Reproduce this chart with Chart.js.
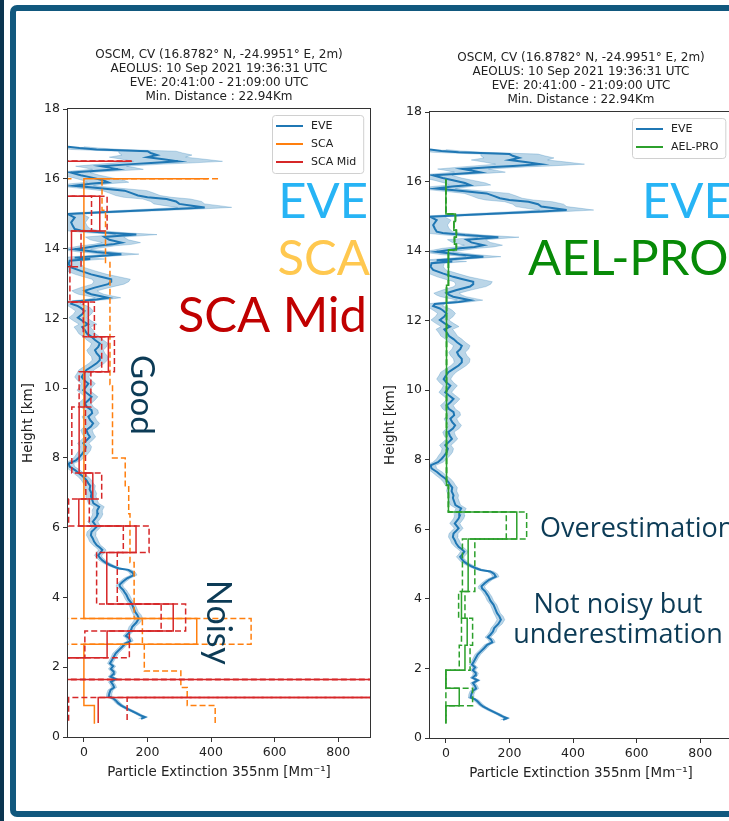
<!DOCTYPE html>
<html>
<head>
<meta charset="utf-8">
<script src="https://cdn.jsdelivr.net/npm/chart.js@4.4.0/dist/chart.umd.min.js"></script>
<style>
  html, body { margin: 0; padding: 0; background: #fff; overflow: hidden; width: 729px; height: 821px; }
  #strip { position: absolute; left: 0; top: 0; width: 4px; height: 821px; background: #0b3550; }
  #frame { position: absolute; left: 10px; top: 5px; width: 800px; height: 812px; border: 6px solid #11587e;
           border-radius: 7px; box-sizing: border-box; }
  canvas { position: absolute; top: 0; }
  #left { left: 0; }
  #right { left: 362px; }
</style>
</head>
<body>
<div id="strip"></div>
<div id="frame"></div>
<canvas id="left" width="438" height="821"></canvas>
<canvas id="right" width="438" height="821"></canvas>
<script>
// EVE lidar profile (height km, extinction Mm-1, half width of the shaded band)
const eveH = [
  0.52, 0.57, 0.62, 0.68, 0.75, 0.82, 0.90, 0.97, 1.05, 1.11,
  1.16, 1.25, 1.35, 1.42, 1.49, 1.58, 1.66, 1.73, 1.80, 1.87,
  1.95, 2.03, 2.11, 2.20, 2.30, 2.40, 2.49, 2.58, 2.68, 2.75,
  2.83, 2.90, 2.97, 3.06, 3.16, 3.28, 3.40, 3.50, 3.59, 3.70,
  3.83, 3.95, 4.07, 4.15, 4.21, 4.30, 4.36, 4.45, 4.55, 4.64,
  4.72, 4.79, 4.83, 4.88, 4.93, 5.00, 5.07, 5.14, 5.21, 5.28,
  5.36, 5.43, 5.50, 5.60, 5.69, 5.78, 5.88, 5.95, 6.03, 6.10,
  6.17, 6.25, 6.31, 6.40, 6.50, 6.60, 6.70, 6.80, 6.90, 6.98,
  7.10, 7.20, 7.27, 7.36, 7.46, 7.55, 7.65, 7.75, 7.84, 7.93,
  8.03, 8.12, 8.22, 8.32, 8.42, 8.50, 8.60, 8.70, 8.80, 8.90,
  8.99, 9.08, 9.18, 9.28, 9.37, 9.46, 9.56, 9.66, 9.75, 9.85,
  9.94, 10.03, 10.13, 10.22, 10.32, 10.42, 10.52, 10.62, 10.71, 10.80,
  10.90, 11.00, 11.09, 11.18, 11.28, 11.38, 11.47, 11.56, 11.66, 11.75,
  11.83, 11.93, 12.02, 12.12, 12.21, 12.30, 12.35, 12.42, 12.48, 12.54,
  12.59, 12.64, 12.69, 12.74, 12.79, 12.88, 12.98, 13.05, 13.12, 13.20,
  13.26, 13.36, 13.46, 13.55, 13.65, 13.70, 13.74, 13.79, 13.84, 13.90,
  13.98, 14.03, 14.08, 14.12, 14.17, 14.25, 14.33, 14.40, 14.46, 14.52,
  14.56, 14.65, 14.75, 14.89, 14.99, 15.04, 15.09, 15.14, 15.18, 15.23,
  15.28, 15.35, 15.42, 15.47, 15.52, 15.59, 15.66, 15.72, 15.80, 15.86,
  15.90, 15.96, 16.04, 16.10, 16.18, 16.22, 16.27, 16.32, 16.36, 16.42,
  16.45, 16.50, 16.56, 16.62, 16.68, 16.74, 16.79, 16.84, 16.88, 16.92
];
const eveV = [
  180, 192, 178, 166, 150, 134, 118, 108, 100, 92,
  78, 80, 84, 95, 92, 85, 100, 84, 92, 94,
  85, 92, 82, 88, 94, 100, 110, 120, 130, 146,
  142, 132, 140, 148, 152, 165, 173, 168, 161, 156,
  150, 140, 134, 128, 124, 114, 112, 122, 136, 157,
  152, 140, 110, 95, 82, 68, 57, 50, 45, 52,
  58, 50, 40, 32, 28, 22, 24, 32, 40, 34,
  28, 35, 40, 44, 42, 48, 30, 26, 22, 24,
  18, 20, 14, 8, -2, -15, -28, -45, -48, -25,
  -13, -5, 3, 6, -2, 8, 19, 12, 8, 22,
  29, 20, 14, 26, 24, 10, 3, 15, 24, 10,
  -2, 6, 14, 2, -7, 0, 8, 25, 40, 50,
  50, 40, 35, 45, 50, 35, 24, 10, 3, -5,
  13, -5, -19, -5, 2, -10, -19, -40, -35, 40,
  76, 50, 23, 10, 2, 34, 76, 86, 86, 50,
  23, -10, -40, -48, -45, 20, -29, 50, 118, 40,
  -29, 10, 44, 90, 118, 80, 65, 165, 60, -10,
  -29, -35, -40, -29, -50, 60, 180, 300, 380, 340,
  300, 290, 260, 200, 170, 150, 128, 60, -30, 20,
  76, 60, 22, -10, -41, 30, 107, 80, 54, 150,
  211, 296, 250, 200, 230, 210, 200, 40, -14, -50
];
const eveErr = [
  8, 8, 8, 8, 8, 8, 8, 8, 8, 8,
  8, 8, 8, 8, 8, 8, 8, 8, 8, 8,
  8, 8, 8, 8, 8, 9, 9, 9, 9, 9,
  9, 9, 9, 10, 10, 12, 12, 12, 10, 10,
  10, 10, 10, 10, 10, 10, 10, 10, 10, 10,
  10, 10, 10, 10, 10, 10, 10, 10, 12, 12,
  12, 12, 12, 14, 14, 14, 14, 14, 14, 14,
  16, 16, 16, 16, 16, 16, 16, 16, 16, 16,
  16, 16, 16, 16, 16, 16, 16, 16, 16, 16,
  16, 18, 18, 18, 18, 18, 18, 18, 18, 20,
  20, 20, 20, 20, 20, 20, 20, 20, 20, 20,
  20, 20, 22, 22, 22, 22, 24, 24, 24, 24,
  26, 26, 26, 26, 26, 26, 26, 26, 26, 26,
  28, 28, 28, 28, 28, 30, 30, 30, 30, 35,
  40, 40, 40, 40, 40, 45, 50, 55, 60, 55,
  50, 45, 40, 40, 40, 45, 45, 50, 55, 55,
  50, 50, 55, 60, 60, 60, 60, 65, 60, 55,
  50, 45, 45, 45, 45, 60, 70, 80, 85, 85,
  80, 80, 75, 75, 70, 70, 70, 65, 60, 60,
  65, 65, 60, 60, 60, 70, 80, 80, 80, 100,
  120, 140, 130, 120, 110, 100, 90, 80, 60, 50
];

// SCA (bin edges from the top, one value per bin)
const scaEdges = [16.0, 16.0, 15.1, 13.6, 10.1, 8.0, 7.2, 6.4, 5.0, 3.4, 2.66, 1.89, 1.42, 0.9, 0.38];
const scaVal = [390, 0, 0, 0, 0, 0, 0, 0, 0, 355, 0, 0, 0, 33];
const scaLo = [-39, -70, -70, -70, -70, -70, -70, -70, -70, 184, -70, -70, -70, -350];
const scaHi = [422, 57, 68, 82, 90, 130, 141, 145, 158, 526, 190, 305, 325, 413];

// SCA Mid
const midEdges = [16.5, 16.5, 15.5, 14.5, 13.48, 12.47, 11.47, 10.47, 9.46, 7.57, 6.82, 6.05, 5.29, 3.81, 3.04, 2.27, 1.65, 1.13, 0.40];
const midVal = [150, -500, 50, -39, -100, 14, 77, 3, -15, 28, -16, 164, 72, 281, 73, -3000, 5000, 45];
const midLo = [150, -700, 24, -80, -160, -2, 56, -15, -38, 6, -48, 124, 40, 243, 3, -4000, 3000, -48];
const midHi = [150, -300, 73, -9, -44, 33, 96, 22, 5, 56, 17, 205, 105, 320, 143, -2000, 7000, 136];

// AEL-PRO
const aelEdges = [16.06, 15.07, 14.85, 14.6, 14.4, 14.2, 14.03, 13.02, 7.27, 6.50, 5.72, 4.21, 3.44, 2.67, 1.95, 1.43, 0.93, 0.42];
const aelVal = [0, 30, 25, 33, 27, 33, 8, 2, 8, 223, 70, 49, 67, 60, 0, 42, 0];
const aelLo = [0, 30, 25, 33, 27, 33, 8, 2, 8, 190, 52, 40, 49, 42, 0, 0, 0];
const aelHi = [0, 30, 25, 33, 27, 33, 8, 2, 8, 254, 91, 60, 84, 76, 0, 84, 0];

const xTicks = [0, 200, 400, 600, 800];
const titleLines = [
  'OSCM, CV (16.8782° N, -24.9951° E, 2m)',
  'AEOLUS: 10 Sep 2021 19:36:31 UTC',
  'EVE: 20:41:00 - 21:09:00 UTC',
  'Min. Distance : 22.94Km'
];

Chart.defaults.font.family = '"DejaVu Sans", sans-serif';

function profile(h, v) {
  return h.map((y, i) => ({ x: v[i], y: y }));
}

function steps(edges, vals) {
  const pts = [];
  vals.forEach((v, i) => {
    pts.push({ x: v, y: edges[i] });
    pts.push({ x: v, y: edges[i + 1] });
  });
  return pts;
}

function stepSet(label, edges, vals, color, dashed) {
  return {
    label: label, data: steps(edges, vals), borderColor: color, borderWidth: 1.5,
    borderDash: dashed ? [6, 3] : [], pointRadius: 0, fill: false, tension: 0
  };
}

function eveSets() {
  return [
    { label: 'EVE', data: profile(eveH, eveV), borderColor: '#1f77b4', borderWidth: 2,
      pointRadius: 0, fill: false, tension: 0 },
    { label: 'eve-lo', data: profile(eveH, eveV.map((v, i) => v - eveErr[i])),
      borderColor: 'rgba(31,119,180,0.25)', borderWidth: 1, pointRadius: 0, fill: false, tension: 0 },
    { label: 'eve-hi', data: profile(eveH, eveV.map((v, i) => v + eveErr[i])),
      borderColor: 'rgba(31,119,180,0.25)', borderWidth: 1, pointRadius: 0, tension: 0,
      fill: '-1', backgroundColor: 'rgba(31,119,180,0.3)' }
  ];
}

// box around the axes, like matplotlib spines
const spines = {
  id: 'spines',
  afterDatasetsDraw(chart) {
    const { ctx, chartArea: a } = chart;
    ctx.save();
    ctx.strokeStyle = '#333';
    ctx.lineWidth = 1;
    ctx.strokeRect(Math.round(a.left) - 0.5, Math.round(a.top) - 0.5,
                   Math.round(a.right - a.left) + 1, Math.round(a.bottom - a.top) + 1);
    ctx.restore();
  }
};

// legend box in the upper right corner of the axes
const boxLegend = {
  id: 'boxLegend',
  afterDatasetsDraw(chart, args, opts) {
    const items = opts.labels.map(l => chart.data.datasets.find(d => d.label === l));
    const ctx = chart.ctx;
    const a = chart.chartArea;
    ctx.save();
    ctx.font = '11px "DejaVu Sans"';
    const tw = Math.max(...items.map(d => ctx.measureText(d.label).width));
    const w = 39 + tw + 7, h = items.length * 18 + 4;
    const x = Math.round(a.right - 7 - w), y = Math.round(a.top + 6);
    ctx.beginPath();
    ctx.roundRect(x + 0.5, y + 0.5, w, h, 3);
    ctx.fillStyle = 'rgba(255,255,255,0.8)';
    ctx.fill();
    ctx.strokeStyle = '#d0d0d0';
    ctx.lineWidth = 1;
    ctx.stroke();
    items.forEach((d, i) => {
      const cy = y + 11 + i * 18;
      ctx.beginPath();
      ctx.moveTo(x + 4, cy);
      ctx.lineTo(x + 31, cy);
      ctx.strokeStyle = d.borderColor;
      ctx.lineWidth = 2;
      ctx.stroke();
      ctx.fillStyle = '#222';
      ctx.textBaseline = 'middle';
      ctx.fillText(d.label, x + 39, cy);
    });
    ctx.restore();
  }
};

// big annotation words written over the figure
const notes = {
  id: 'notes',
  afterDraw(chart, args, opts) {
    const ctx = chart.ctx;
    opts.items.forEach(n => {
      ctx.save();
      ctx.font = n.size + 'px ' + (n.face || 'Lato');
      ctx.fillStyle = n.color;
      ctx.textAlign = n.align || 'left';
      ctx.textBaseline = 'alphabetic';
      ctx.translate(n.x, n.y);
      if (n.rotate) ctx.rotate(n.rotate * Math.PI / 180);
      ctx.fillText(n.text, 0, 0);
      ctx.restore();
    });
  }
};

function makeChart(id, datasets, legendLabels, noteItems, padTop, padBottom) {
  return new Chart(document.getElementById(id), {
    type: 'line',
    data: { datasets: datasets },
    options: {
      indexAxis: 'y',
      responsive: false,
      animation: false,
      events: [],
      layout: { padding: { top: padTop, bottom: padBottom, left: 20, right: 68 } },
      scales: {
        x: {
          type: 'linear', min: -50, max: 900,
          afterBuildTicks: s => { s.ticks = xTicks.map(v => ({ value: v })); },
          afterFit: s => { s.height = 50; },
          grid: { drawOnChartArea: false, drawTicks: true, tickLength: 5, color: '#333' },
          border: { display: false },
          ticks: { font: { size: 12.5 }, color: '#222', padding: 3 },
          title: { display: true, text: 'Particle Extinction 355nm [Mm⁻¹]', color: '#222',
                   font: { size: 13.4 }, padding: { top: 4, bottom: 6 } }
        },
        y: {
          type: 'linear', min: 0, max: 18,
          afterFit: s => { s.width = 48; },
          grid: { drawOnChartArea: false, drawTicks: true, tickLength: 5, color: '#333' },
          border: { display: false },
          ticks: { stepSize: 2, font: { size: 12.5 }, color: '#222', padding: 3 },
          title: { display: true, text: 'Height [km]', color: '#222',
                   font: { size: 13.4 }, padding: { top: 0, bottom: 4 } }
        }
      },
      plugins: {
        legend: { display: false },
        tooltip: { enabled: false },
        title: { display: true, text: titleLines, fullSize: false, color: '#222',
                 font: { size: 12, weight: 'normal', lineHeight: '14px' },
                 padding: { top: 0, bottom: 5 } },
        boxLegend: { labels: legendLabels },
        notes: { items: noteItems }
      }
    },
    plugins: [spines, boxLegend, notes]
  });
}

const navy = '#0c3b56';
const lightBlue = '#27b4f5';

makeChart('left', [
  stepSet('SCA Mid', midEdges, midVal, '#d62728', false),
  stepSet('SCA Mid lo', midEdges, midLo, '#d62728', true),
  stepSet('SCA Mid hi', midEdges, midHi, '#d62728', true),
  stepSet('SCA', scaEdges, scaVal, '#ff7f0e', false),
  stepSet('SCA lo', scaEdges, scaLo, '#ff7f0e', true),
  stepSet('SCA hi', scaEdges, scaHi, '#ff7f0e', true),
  ...eveSets()
], ['EVE', 'SCA', 'SCA Mid'], [
  { text: 'EVE', x: 368, y: 218, size: 49, color: lightBlue, align: 'right' },
  { text: 'SCA', x: 370, y: 275, size: 49, color: '#ffc84f', align: 'right' },
  { text: 'SCA Mid', x: 367, y: 332, size: 49, color: '#c00000', align: 'right' },
  { text: 'Good', x: 131, y: 355, size: 33, color: navy, rotate: 90 },
  { text: 'Noisy', x: 207, y: 580, size: 34, color: navy, rotate: 90 }
], 48, 34);

makeChart('right', [
  stepSet('AEL-PRO', aelEdges, aelVal, '#2ca02c', false),
  stepSet('AEL-PRO lo', aelEdges, aelLo, '#2ca02c', true),
  stepSet('AEL-PRO hi', aelEdges, aelHi, '#2ca02c', true),
  ...eveSets()
], ['EVE', 'AEL-PRO'], [
  { text: 'EVE', x: 280, y: 218, size: 49, color: lightBlue },
  { text: 'AEL-PRO', x: 166, y: 275, size: 49, color: '#078a07' },
  { text: 'Overestimation', x: 178, y: 537, size: 27, color: navy, face: '"Open Sans"' },
  { text: 'Not noisy but', x: 256, y: 613, size: 27, color: navy, align: 'center', face: '"Open Sans"' },
  { text: 'underestimation', x: 256, y: 643, size: 27, color: navy, align: 'center', face: '"Open Sans"' }
], 51, 33);
</script>
</body>
</html>
